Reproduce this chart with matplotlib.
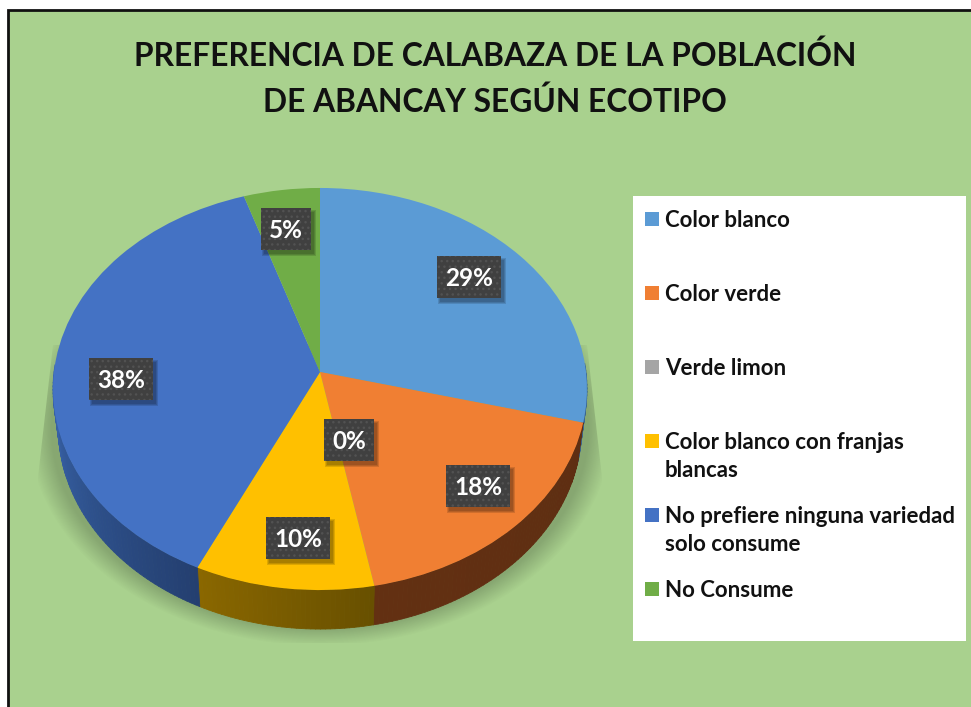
import numpy as np
import matplotlib
matplotlib.use("Agg")
import matplotlib.pyplot as plt
from matplotlib.collections import PolyCollection
from matplotlib.colors import to_rgb
from matplotlib.patches import Polygon, Rectangle
from matplotlib.transforms import Transform

plt.rcParams['font.family'] = ['Lato', 'DejaVu Sans']

title = "PREFERENCIA DE CALABAZA DE LA POBLACIÓN\nDE ABANCAY SEGÚN ECOTIPO"
categories = ["Color blanco", "Color verde", "Verde limon",
              "Color blanco con franjas\nblancas",
              "No prefiere ninguna variedad\nsolo consume", "No Consume"]
values = [29, 18, 0, 10, 38, 5]
colors = ["#5B9BD5", "#F07F33", "#A5A5A5", "#FFC000", "#4472C4", "#70AD47"]
side_colors = [("#3A6690", "#3A6690"), ("#633012", "#5E2E12"), ("#555555", "#555555"),
               ("#8A6700", "#685000"), ("#3A66AE", "#243F70"), ("#3F6628", "#3F6628")]

# label centres in pixels, same order as values
label_pos = [(469, 277), (478, 486), (349, 440), (298, 538), (121, 379), (286, 229)]
legend_y = [219, 293, 367, 441, 515, 589]

# pie geometry in pixels
CX, CY = 320, 372
RX, RY = 266, 199.6
TILT = 0.0846
DEPTH = 39
BOTTOM_SCALE = 0.98


class DiscProjection(Transform):
    """Unit circle to the tilted disc as seen in perspective."""
    input_dims = 2
    output_dims = 2
    is_separable = False
    has_inverse = False

    def transform_non_affine(self, xy):
        xy = np.asarray(xy, dtype=float)
        w = 1 + TILT * xy[:, 1]
        return np.column_stack([CX + RX * xy[:, 0] / w, CY - RY * xy[:, 1] / w])


def rim(theta):
    pts = np.column_stack([np.cos(theta), np.sin(theta)])
    return DiscProjection().transform_non_affine(pts)


fig = plt.figure(figsize=(9.71, 7.07), dpi=100, facecolor="white")
ax = fig.add_axes([0, 0, 1, 1])

wedges, _ = ax.pie(values, colors=colors, startangle=90, counterclock=False,
                   wedgeprops=dict(linewidth=0, zorder=5))
projection = DiscProjection() + ax.transData
for w in wedges:
    w.set_transform(projection)

ax.set_aspect("auto")
ax.set_xlim(0, 971)
ax.set_ylim(707, 0)
ax.axis("off")

# background panel with the black frame on the left and top
ax.add_patch(Rectangle((8, 10), 980, 720, facecolor="#A9D18E", edgecolor="#111111",
                       linewidth=2, zorder=0))

# soft shadow below the disc, cut off by a trapezoid
gx, gy = np.meshgrid(np.arange(971) + 0.5, np.arange(707) + 0.5)
dist = np.hypot((gx - 320) / 292, (gy - 428) / 218)
shadow = np.zeros((707, 971, 4))
shadow[..., 3] = 0.2 * np.clip((1 - dist) / 0.08, 0, 1)
im = ax.imshow(shadow, extent=(0, 971, 707, 0), aspect="auto", zorder=1)
clip = Polygon([(53, 345), (587, 345), (604, 495), (604, 643), (36, 643), (36, 495)],
               transform=ax.transData)
im.set_clip_path(clip)
ax.set_xlim(0, 971)
ax.set_ylim(707, 0)

# side wall of each slice, in thin strips so the shade can change along it
edges = 90 - np.cumsum([0] + values) * 3.6
for i in range(len(values)):
    if values[i] == 0:
        continue
    theta = np.radians(np.linspace(edges[i], edges[i + 1], int(values[i] * 3.6) + 2))
    theta = theta[np.sin(theta) < 0.05]  # back of the disc stays hidden
    if len(theta) < 2:
        continue
    top = rim(theta)
    low = top.copy()
    low[:, 0] = CX + (low[:, 0] - CX) * BOTTOM_SCALE
    low[:, 1] += DEPTH
    quads = [[top[j], top[j + 1], low[j + 1], low[j]] for j in range(len(theta) - 1)]
    c0, c1 = np.array(to_rgb(side_colors[i][0])), np.array(to_rgb(side_colors[i][1]))
    # strips run clockwise, the reference shades left to right
    mix = np.linspace(0, 1, len(quads))[:, None]
    shades = c1 * (1 - mix) + c0 * mix
    ax.add_collection(PolyCollection(quads, facecolors=shades, edgecolors=shades,
                                     linewidths=0.6, zorder=3))

# data labels
for val, (lx, ly) in zip(values, label_pos):
    text = f"{val}%"
    half = 32 if len(text) == 3 else 25
    for grow in (2, 1, 0):
        ax.add_patch(Rectangle((lx - half + 3 - grow, ly - 21 + 4 - grow),
                               half * 2 + 2 * grow, 42 + 2 * grow, facecolor="black",
                               alpha=0.13, linewidth=0, zorder=6))
    ax.add_patch(Rectangle((lx - half, ly - 21), half * 2, 42, facecolor="#404040",
                           edgecolor="#525252", hatch="...", linewidth=0, zorder=7))
    ax.text(lx, ly + 1.5, text, color="white", fontsize=17.5, fontweight="bold",
            ha="center", va="center", zorder=8)

# legend box
ax.add_patch(Rectangle((633, 196), 333, 445, facecolor="white", linewidth=0, zorder=2))
for name, col, y in zip(categories, colors, legend_y):
    ax.add_patch(Rectangle((645, y - 7), 14, 14, facecolor=col, linewidth=0, zorder=3))
    ax.text(665, y - 9, name, color="#111111", fontsize=16, fontweight="bold",
            ha="left", va="top", linespacing=1.42, zorder=3)

ax.text(495, 79, title, color="#111111", fontsize=22.9, fontweight="bold",
        ha="center", va="center", linespacing=1.6, zorder=3)

fig.savefig("out.png", dpi=100)
